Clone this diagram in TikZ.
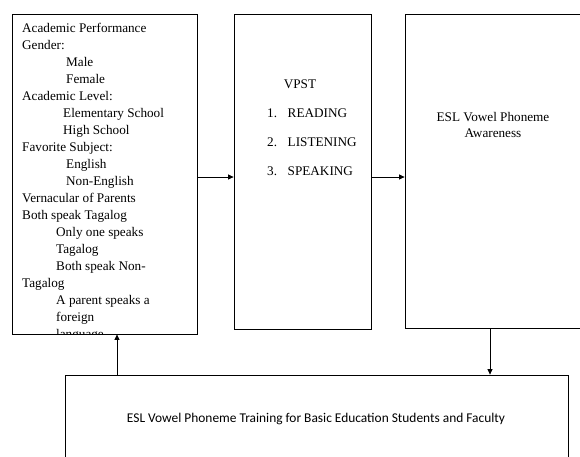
\documentclass[tikz,border=0pt]{standalone}
\usepackage{fontspec}
\setmainfont{Liberation Serif}
\newfontfamily\carlito{Carlito}
\usetikzlibrary{
    arrows.meta,
    positioning,
    calc
}

\begin{document}
\begin{tikzpicture}[
    x=1pt, y=-1pt,
    box/.style={draw, line width=0.8pt, inner sep=0pt},
    arrow/.style={-{Triangle[length=5.5pt, width=5pt]}, line width=0.8pt},
    font=\fontsize{13.2}{17}\selectfont
  ]

  \useasboundingbox (0,0) rectangle (580,456);

  % boxes {{{
  \node[
    box,
    minimum width=185pt,
    minimum height=320pt
  ] (profile) at (104.5,174) {};
  \node[
    box,
    minimum width=137pt,
    minimum height=315pt
  ] (vpst) at (302.5,171.5) {};
  \node[
    box,
    minimum width=180pt,
    minimum height=314pt
  ] (awareness) at (495,171) {};
  \node[
    box,
    minimum width=503pt,
    minimum height=110pt
  ] (training) at (316.5,430) {};
  % }}}

  % profile of the learners {{{
  \begin{scope}
    \clip (profile.north west) rectangle (profile.south east);
    \node[
      anchor=north west,
      inner sep=0pt,
      align=left
    ] (profiletext) at (22,22.7)
    {Academic Performance\\
     Gender:\\
     \hspace*{44pt}Male\\
     \hspace*{44pt}Female\\
     Academic Level:\\
     \hspace*{41pt}Elementary School\\
     \hspace*{41pt}High School\\
     Favorite Subject:\\
     \hspace*{44pt}English\\
     \hspace*{44pt}Non-English\\
     Vernacular of Parents\\
     Both speak Tagalog\\
     \hspace*{34pt}Only one speaks\\
     \hspace*{34pt}Tagalog\\
     \hspace*{34pt}Both speak Non-\\
     Tagalog\\
     \hspace*{34pt}A parent speaks a\\
     \hspace*{34pt}foreign\\
     \hspace*{34pt}language};
  \end{scope}
  % }}}

  % VPST {{{
  \node[anchor=base, inner sep=0pt] (vpsttitle) at (300,88.3) {VPST};
  \node[anchor=base west, inner sep=0pt] (reading) at (267,117.3)
    {\makebox[20.5pt][l]{1.}READING};
  \node[anchor=base west, inner sep=0pt] (listening)
    at ($(reading.base west)+(0,29)$) {\makebox[20.5pt][l]{2.}LISTENING};
  \node[anchor=base west, inner sep=0pt] (speaking)
    at ($(listening.base west)+(0,29)$) {\makebox[20.5pt][l]{3.}SPEAKING};
  % }}}

  % awareness {{{
  \node[anchor=base, inner sep=0pt] (awaretop) at (493,121) {ESL Vowel Phoneme};
  \node[anchor=base, inner sep=0pt] (awarebottom)
    at ($(awaretop.base)+(0,16)$) {Awareness};
  % }}}

  % training {{{
  \node[
    anchor=base,
    inner sep=0pt,
    font=\carlito\fontsize{13.4}{16}\selectfont
  ] (trainingtext) at (316,422.3)
  {ESL Vowel Phoneme Training for Basic Education Students and Faculty};
  % }}}

  % connectors {{{
  \draw[arrow] (profile.east |- 0,177) -- (vpst.west |- 0,177);
  \draw[arrow] (vpst.east |- 0,177) -- (awareness.west |- 0,177);
  \draw[arrow] (awareness.south -| 490,0) -- (training.north -| 490,0);
  \draw[arrow] (training.north -| 117,0) -- (profile.south -| 117,0);
  % }}}

\end{tikzpicture}
\end{document}
